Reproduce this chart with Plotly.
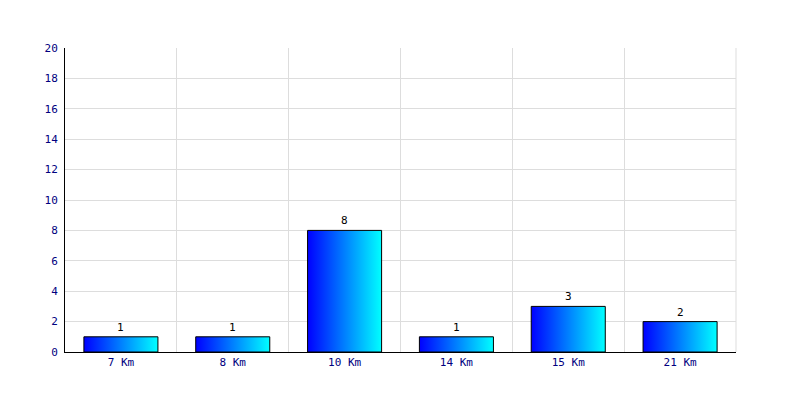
import plotly.graph_objects as go

categories = ["7 Km", "8 Km", "10 Km", "14 Km", "15 Km", "21 Km"]
values = [1, 1, 8, 1, 3, 2]
y_ticks = list(range(0, 21, 2))

half_w = 0.331
fig = go.Figure()
for i, v in enumerate(values):
    xs = [i - half_w, i + half_w, i + half_w, i - half_w, i - half_w]
    ys = [0, 0, v, v, 0]
    fig.add_trace(go.Scatter(
        x=xs, y=ys, mode="lines", fill="toself",
        line=dict(color="black", width=1),
        fillgradient=dict(type="horizontal",
                          colorscale=[[0, "#0000ff"], [1, "#00ffff"]]),
        hoverinfo="skip", showlegend=False,
    ))

for i, v in enumerate(values):
    fig.add_annotation(
        x=i, y=v, text=str(v), showarrow=False,
        yanchor="bottom", yshift=1,
        font=dict(family="DejaVu Sans Mono", size=11, color="black"),
    )

n = len(categories)
fig.add_shape(type="line", xref="paper", yref="paper", x0=1, x1=1, y0=0, y1=1,
              line=dict(color="#dddddd", width=1), layer="below")

fig.update_layout(
    width=800, height=400,
    margin=dict(l=57, r=72, t=40, b=56),
    plot_bgcolor="white", paper_bgcolor="white",
    xaxis=dict(
        range=[-0.5, n - 0.5],
        tickvals=list(range(n)), ticktext=categories,
        showgrid=False, zeroline=False,
        showline=True, linecolor="black", linewidth=1,
        ticks="", ticklen=0,
        tickfont=dict(family="DejaVu Sans Mono", size=11, color="#000080"),
        minor=dict(tickvals=[i + 0.5 for i in range(-1, n)],
                   showgrid=True, gridcolor="#dddddd", gridwidth=1, ticks=""),
        fixedrange=True,
    ),
    yaxis=dict(
        range=[0, 20], tickvals=y_ticks,
        showgrid=True, gridcolor="#dddddd", gridwidth=1,
        zeroline=False, showline=True, linecolor="black", linewidth=1,
        ticks="", ticklabelstandoff=4,
        tickfont=dict(family="DejaVu Sans Mono", size=11, color="#000080"),
        fixedrange=True,
    ),
)

fig.write_html("out.html")
